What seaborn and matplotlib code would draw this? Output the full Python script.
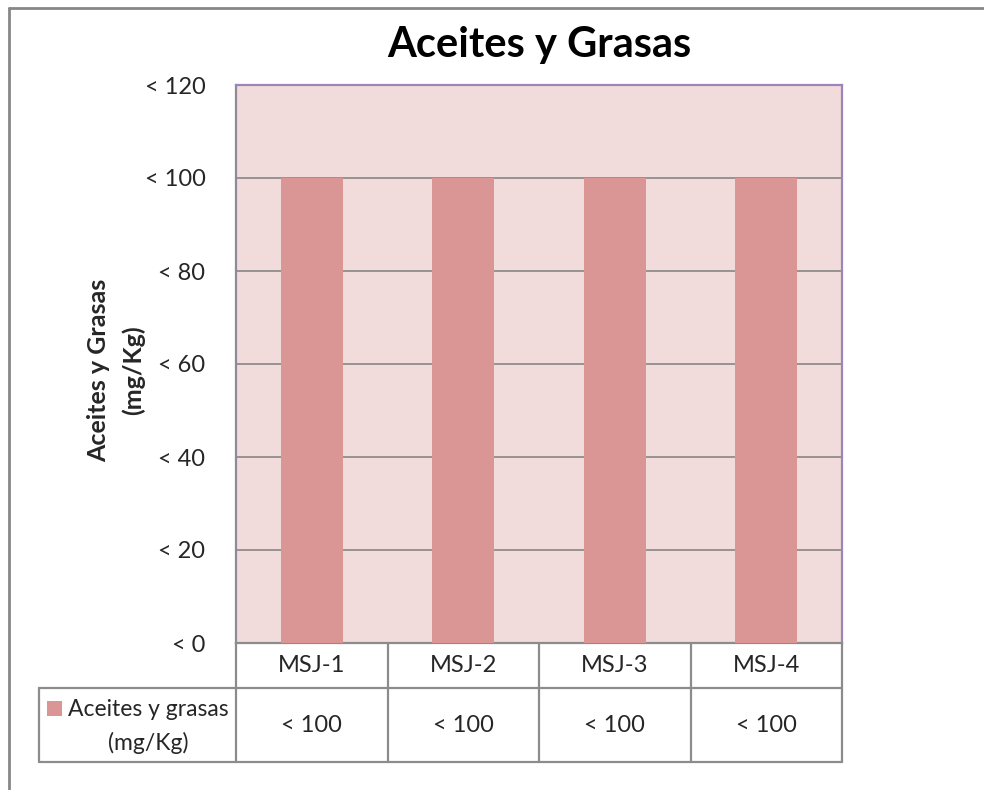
import matplotlib
matplotlib.use("Agg")
import matplotlib.pyplot as plt
import seaborn as sns
import pandas as pd
from matplotlib.lines import Line2D
from matplotlib.patches import Rectangle
from matplotlib.transforms import blended_transform_factory

# ---- data ----
categories = ["MSJ-1", "MSJ-2", "MSJ-3", "MSJ-4"]
values = [100, 100, 100, 100]
series_name = "Aceites y grasas\n(mg/Kg)"
y_ticks = [0, 20, 40, 60, 80, 100, 120]
title = "Aceites y Grasas"
y_label = "Aceites y Grasas\n(mg/Kg)"

sns.set_theme(style="white")
plt.rcParams["font.family"] = ["Lato", "DejaVu Sans"]

W, H = 984, 790
fig = plt.figure(figsize=(W / 100, H / 100), dpi=100)
fig.patch.set_facecolor("white")


def fx(px):
    return px / W


def fy(py):
    return 1 - py / H


FS = 17

ax_left, ax_top, ax_right, ax_bottom = 236, 85, 842, 643
ax = fig.add_axes([fx(ax_left), fy(ax_bottom), fx(ax_right - ax_left), (ax_bottom - ax_top) / H])

df = pd.DataFrame({"muestra": categories, "valor": values})
bar_color = "#D99694"
sns.barplot(data=df, x="muestra", y="valor", color=bar_color, width=0.41,
            saturation=1, linewidth=0, ax=ax, zorder=3)

ax.set_facecolor("#F2DCDB")
ax.set_ylim(y_ticks[0], y_ticks[-1])
ax.set_xlim(-0.5, len(categories) - 0.5)
ax.set_yticks(y_ticks)
ax.set_yticklabels([f"< {t}" for t in y_ticks], fontsize=FS)
ax.tick_params(axis="y", length=0, pad=22)
ax.set_xticks([])
ax.set_xlabel("")
ax.set_ylabel("")
for t in y_ticks[1:-1]:
    ax.axhline(t, color="#868686", lw=1.2, zorder=1)

grid_grey = "#8C8C8C"
ax.spines["left"].set_color("#8E8A99")
ax.spines["bottom"].set_color(grid_grey)
ax.spines["top"].set_color("#9A86BA")
ax.spines["right"].set_color("#9A86BA")
for s in ax.spines.values():
    s.set_linewidth(1.6)
    s.set_visible(True)

# axis title (two centred lines, rotated)
fig.text(fx(116), fy(370), y_label, rotation=90, ha="center", va="center",
         fontsize=18, fontweight="bold", linespacing=1.55, multialignment="center")

fig.text(fx(539), fy(45), title, ha="center", va="center",
         fontsize=30, fontweight="bold", color="black")

# ---- data table below the plot ----
trans = blended_transform_factory(ax.transData, fig.transFigure)
row1_top, row1_bot, row2_bot = 643, 688, 762
table_grey = "#8C8C8C"
n = len(categories)
for i in range(n + 1):
    xb = i - 0.5
    fig.add_artist(Line2D([xb, xb], [fy(row1_top), fy(row2_bot)], transform=trans,
                          color=table_grey, lw=1.6))
fig.add_artist(Line2D([-0.5, n - 0.5], [fy(row1_bot), fy(row1_bot)], transform=trans,
                      color=table_grey, lw=1.6))
fig.add_artist(Line2D([-0.5, n - 0.5], [fy(row2_bot), fy(row2_bot)], transform=trans,
                      color=table_grey, lw=1.6))
# series label cell
leg_left = 39
fig.add_artist(Line2D([fx(leg_left), fx(ax_left)], [fy(row1_bot), fy(row1_bot)],
                      transform=fig.transFigure, color=table_grey, lw=1.6))
fig.add_artist(Line2D([fx(leg_left), fx(ax_left)], [fy(row2_bot), fy(row2_bot)],
                      transform=fig.transFigure, color=table_grey, lw=1.6))
fig.add_artist(Line2D([fx(leg_left), fx(leg_left)], [fy(row1_bot), fy(row2_bot)],
                      transform=fig.transFigure, color=table_grey, lw=1.6))

for i, (c, v) in enumerate(zip(categories, values)):
    fig.text(i, fy((row1_top + row1_bot) / 2), c, transform=trans,
             ha="center", va="center", fontsize=FS)
    fig.text(i, fy((row1_bot + row2_bot) / 2), f"< {v}", transform=trans,
             ha="center", va="center", fontsize=FS)

fig.add_artist(Rectangle((fx(47), fy(716)), fx(15), 15 / H, transform=fig.transFigure,
                         facecolor=bar_color, edgecolor="none"))
line1, line2 = series_name.split("\n")
fig.text(fx(68), fy(709), line1, ha="left", va="center", fontsize=16.5)
fig.text(fx(148), fy(743), line2, ha="center", va="center", fontsize=16.5)

# ---- outer chart frame ----
frame = "#878787"
fig.add_artist(Line2D([fx(9), fx(9)], [0, fy(8)], transform=fig.transFigure, color=frame, lw=2))
fig.add_artist(Line2D([fx(9), 1], [fy(8), fy(8)], transform=fig.transFigure, color=frame, lw=2))

fig.savefig("out.png", dpi=100)
